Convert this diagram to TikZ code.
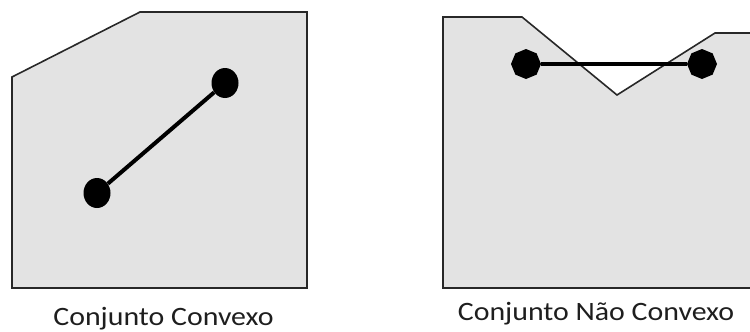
\documentclass[tikz,border=0pt]{standalone}
\usepackage{fontspec}
\setmainfont{Carlito}
\usetikzlibrary{shapes.geometric}
\definecolor{setfill}{RGB}{227,227,227}
\definecolor{setedge}{RGB}{40,40,40}
\definecolor{labelcol}{RGB}{30,30,30}
\newcommand{\widetext}[1]{\scalebox{1.127}[1]{#1}}
\tikzset{
  setshape/.style={fill=setfill, draw=setedge, line width=1.6pt, line join=miter},
  rounddot/.style={ellipse, fill=black, inner sep=0pt, minimum width=27pt, minimum height=30pt},
  octdot/.style={regular polygon, regular polygon sides=8, shape border rotate=22.5, fill=black, inner sep=0pt, minimum size=30pt},
  segment/.style={line width=4pt, black},
  setlabel/.style={font=\fontsize{26.5}{32}\selectfont, text=labelcol, anchor=base, inner sep=0pt}
}
\begin{document}
\begin{tikzpicture}[x=1pt, y=-1pt]
\useasboundingbox (0,0) rectangle (750,332);
\begin{scope}
\clip (0,0) rectangle (750,332);
% convex set
\draw[setshape] (12,77) -- (140,12) -- (307,12) -- (307,288) -- (12,288) -- cycle;
\node[rounddot] (a1) at (97,193) {};
\node[rounddot] (a2) at (225,83) {};
\draw[segment] (a1) -- (a2);
% non-convex set
\draw[setshape] (443,17) -- (522,17) -- (617,95) -- (715,33) -- (760,33) -- (760,288) -- (443,288) -- cycle;
\node[octdot] (b1) at (526,64) {};
\node[octdot] (b2) at (702,64) {};
\draw[segment] (b1) -- (b2);
\end{scope}
\node[setlabel] (l1) at (163.5,325.5) {\widetext{Conjunto Convexo}};
\node[setlabel] (l2) at (596,320) {\widetext{Conjunto Não Convexo}};
\end{tikzpicture}
\end{document}
